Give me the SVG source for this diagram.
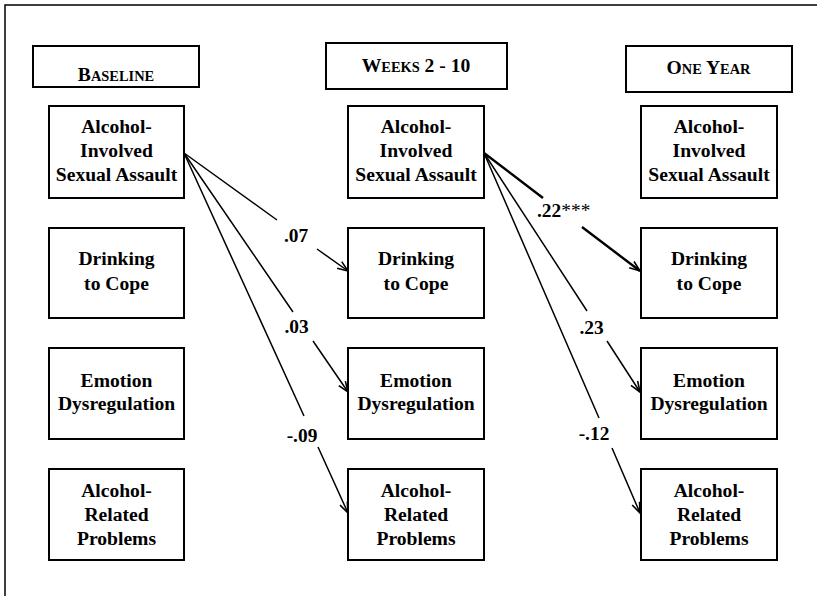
<svg xmlns="http://www.w3.org/2000/svg" width="817" height="596" viewBox="0 0 817 596">
<style>
.box{fill:#fff;stroke:#000;stroke-width:2}
.t{font-family:'Liberation Serif',Times,serif;font-weight:700;font-size:19.6px;fill:#000;text-anchor:middle}
.sc{font-size:14.4px}
.lab{font-family:'Liberation Serif',Times,serif;font-weight:700;font-size:19.4px;fill:#000;text-anchor:middle}
.ast{font-weight:400}
.conn{fill:none;stroke:#000;stroke-width:1.5;marker-end:url(#arr)}
.thick{stroke-width:2.4}
</style>
<defs>
<marker id="arr" markerUnits="userSpaceOnUse" viewBox="0 0 12 10" refX="11.5" refY="5" markerWidth="12" markerHeight="10" orient="auto">
<path d="M1,1 L11.5,5 L1,9" fill="none" stroke="#000" stroke-width="1.6"/>
</marker>
</defs>
<rect width="817" height="596" fill="#fff"/>
<path d="M5,596 L5,5 L817,5" fill="none" stroke="#000" stroke-width="1.5"/>

<g id="header-baseline"><rect class="box" x="33" y="46" width="166" height="41"/><text class="t" x="116" y="81">B<tspan class="sc">ASELINE</tspan></text></g>
<g id="header-weeks"><rect class="box" x="326" y="43" width="181" height="46"/><text class="t" x="416" y="71.5">W<tspan class="sc">EEKS</tspan> 2 - 10</text></g>
<g id="header-oneyear"><rect class="box" x="626" y="46" width="166" height="46"/><text class="t" x="708.5" y="74">O<tspan class="sc">NE</tspan> Y<tspan class="sc">EAR</tspan></text></g>

<g id="b-aisa"><rect class="box" x="49" y="106" width="135" height="92"/><text class="t" x="116.5" y="133">Alcohol-<tspan x="116.5" dy="24">Involved</tspan><tspan x="116.5" dy="24">Sexual Assault</tspan></text></g>
<g id="b-dtc"><rect class="box" x="49" y="228" width="135" height="90"/><text class="t" x="116.5" y="265">Drinking<tspan x="116.5" dy="25">to Cope</tspan></text></g>
<g id="b-ed"><rect class="box" x="49" y="348" width="135" height="91"/><text class="t" x="116.5" y="387">Emotion<tspan x="116.5" dy="23">Dysregulation</tspan></text></g>
<g id="b-arp"><rect class="box" x="49" y="469" width="135" height="91"/><text class="t" x="116.5" y="497">Alcohol-<tspan x="116.5" dy="24">Related</tspan><tspan x="116.5" dy="24">Problems</tspan></text></g>

<g id="w-aisa"><rect class="box" x="348" y="106" width="136" height="92"/><text class="t" x="416" y="133">Alcohol-<tspan x="416" dy="24">Involved</tspan><tspan x="416" dy="24">Sexual Assault</tspan></text></g>
<g id="w-dtc"><rect class="box" x="348" y="228" width="136" height="90"/><text class="t" x="416" y="265">Drinking<tspan x="416" dy="25">to Cope</tspan></text></g>
<g id="w-ed"><rect class="box" x="348" y="348" width="136" height="91"/><text class="t" x="416" y="387">Emotion<tspan x="416" dy="23">Dysregulation</tspan></text></g>
<g id="w-arp"><rect class="box" x="348" y="469" width="136" height="91"/><text class="t" x="416" y="497">Alcohol-<tspan x="416" dy="24">Related</tspan><tspan x="416" dy="24">Problems</tspan></text></g>

<g id="y-aisa"><rect class="box" x="641" y="106" width="136" height="92"/><text class="t" x="709" y="133">Alcohol-<tspan x="709" dy="24">Involved</tspan><tspan x="709" dy="24">Sexual Assault</tspan></text></g>
<g id="y-dtc"><rect class="box" x="641" y="228" width="136" height="90"/><text class="t" x="709" y="265">Drinking<tspan x="709" dy="25">to Cope</tspan></text></g>
<g id="y-ed"><rect class="box" x="641" y="348" width="136" height="91"/><text class="t" x="709" y="387">Emotion<tspan x="709" dy="23">Dysregulation</tspan></text></g>
<g id="y-arp"><rect class="box" x="641" y="469" width="136" height="91"/><text class="t" x="709" y="497">Alcohol-<tspan x="709" dy="24">Related</tspan><tspan x="709" dy="24">Problems</tspan></text></g>

<g id="connectors">
<path class="conn" d="M184,153 L277,220 M317,249 L348,271"/>
<path class="conn" d="M184,153 L293,312 M313,341 L348,392"/>
<path class="conn" d="M184,153 L304,416 M318,447 L348,513"/>
<path class="conn thick" d="M484,153 L543,198 M582,227 L640,271"/>
<path class="conn" d="M484,153 L587,311 M607,341 L640,392"/>
<path class="conn" d="M484,153 L599,418 M612,448 L640,513"/>
<text class="lab" x="296" y="242">.07</text>
<text class="lab" x="296.5" y="333">.03</text>
<text class="lab" x="302" y="442">-.09</text>
<text class="lab" x="537" y="217" style="text-anchor:start">.22<tspan class="ast">***</tspan></text>
<text class="lab" x="591.5" y="334">.23</text>
<text class="lab" x="594" y="440">-.12</text>
</g>
</svg>
